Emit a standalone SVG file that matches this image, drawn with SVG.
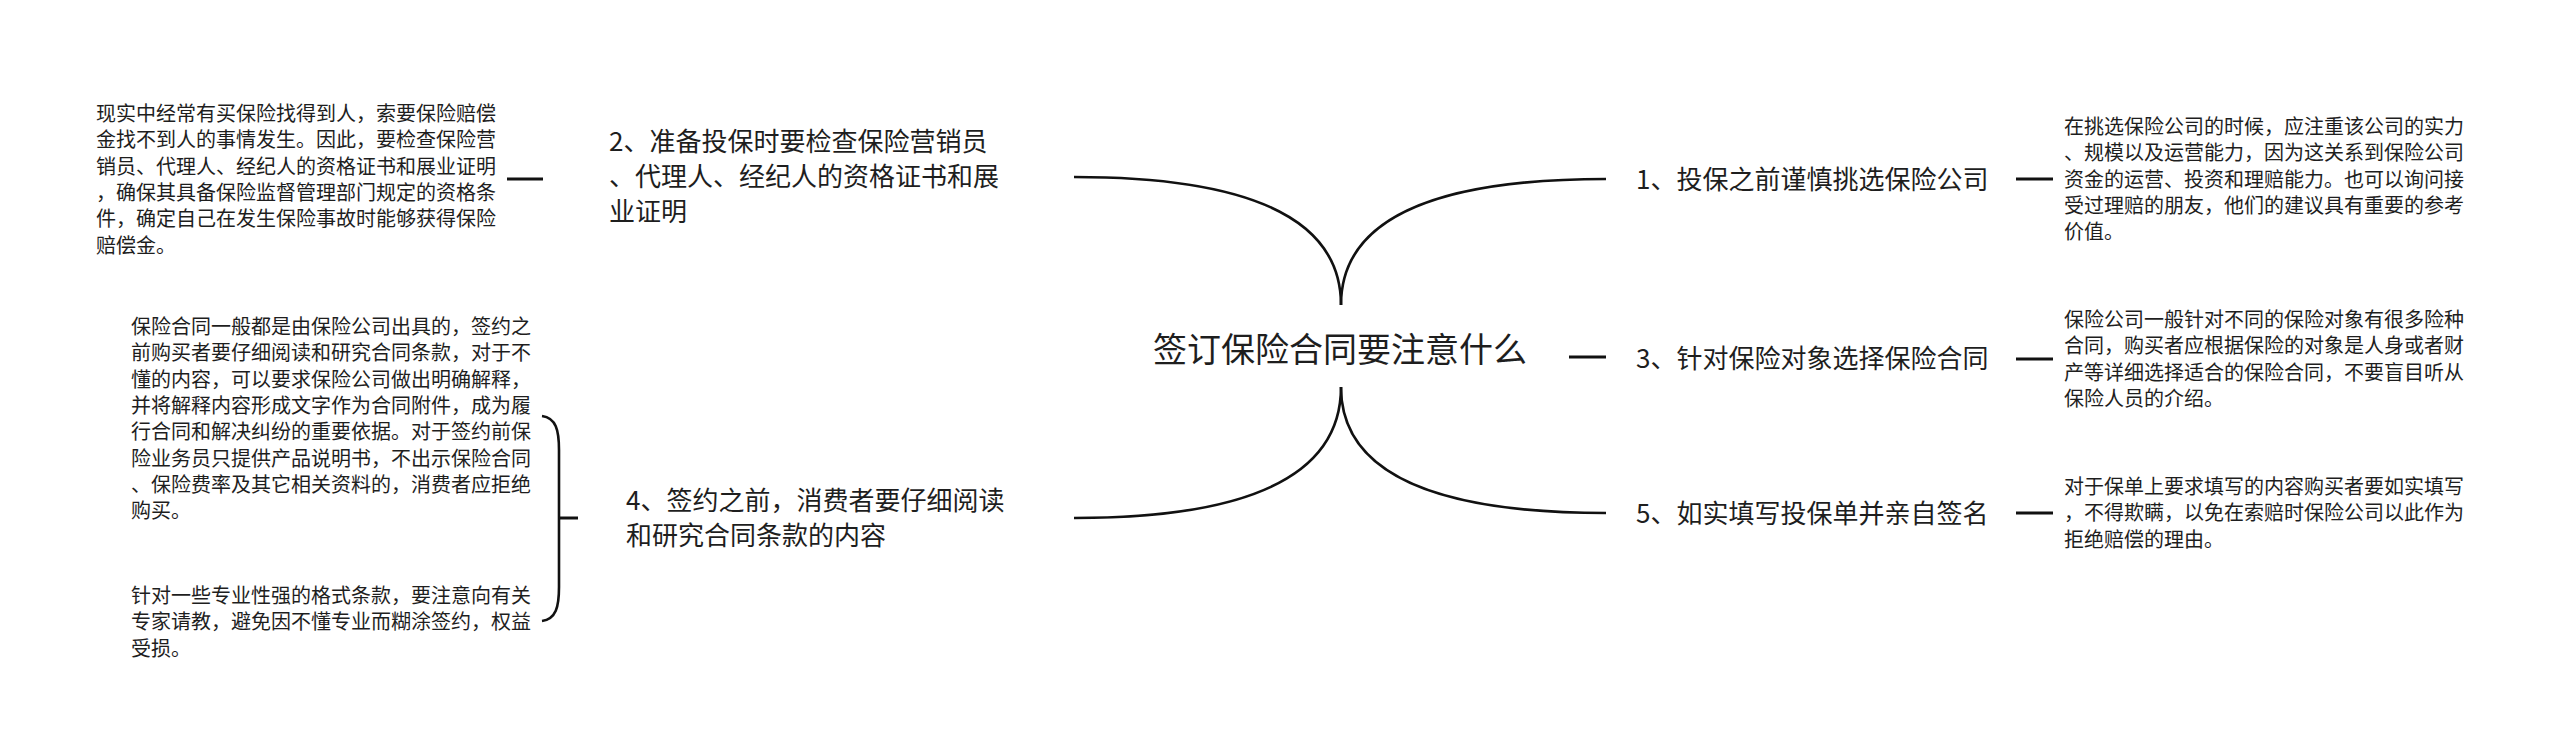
<svg xmlns="http://www.w3.org/2000/svg" width="2560" height="756" viewBox="0 0 2560 756">
<style>
text{font-family:"Noto Sans CJK SC","Noto Sans",sans-serif;fill:#1e1e1e}
.c{font-size:34px}
.t{font-size:26px}
.d{font-size:20px}
.ln{fill:none;stroke:#111;stroke-width:2.6;stroke-linecap:butt}
.dash{fill:none;stroke:#111;stroke-width:3}
</style>
<rect width="2560" height="756" fill="#fff"/>
<g id="connectors">
<path class="ln" d="M1341 305 Q1341 177 1074 177"/>
<path class="ln" d="M1341 305 Q1341 179 1606 179"/>
<path class="ln" d="M1341 387 Q1341 518 1074 518"/>
<path class="ln" d="M1341 387 Q1341 513 1606 513"/>
<path class="dash" d="M1569 357 H1606"/>
<path class="dash" d="M2016 179 H2053"/>
<path class="dash" d="M2016 359 H2053"/>
<path class="dash" d="M2016 513 H2053"/>
<path class="dash" d="M507 179 H543"/>
<path class="dash" d="M558 518 H578"/>
<path class="ln" d="M542 416 C556 418 559 430 559 450 L559 587 C559 607 556 619 542 621"/>
</g>
<g id="center"><text class="c" x="1340" y="362" text-anchor="middle">签订保险合同要注意什么</text></g>
<g id="n1"><text class="t" x="1636" y="189">1、投保之前谨慎挑选保险公司</text></g>
<g id="n3"><text class="t" x="1636" y="368">3、针对保险对象选择保险合同</text></g>
<g id="n5"><text class="t" x="1636" y="523">5、如实填写投保单并亲自签名</text></g>
<g id="n2"><text class="t"><tspan x="609" y="151">2、准备投保时要检查保险营销员</tspan><tspan x="609" y="186">、代理人、经纪人的资格证书和展</tspan><tspan x="609" y="221">业证明</tspan></text></g>
<g id="n4"><text class="t"><tspan x="626" y="510">4、签约之前，消费者要仔细阅读</tspan><tspan x="626" y="545">和研究合同条款的内容</tspan></text></g>
<g id="d2"><text class="d"><tspan x="96" y="121">现实中经常有买保险找得到人，索要保险赔偿</tspan><tspan x="96" y="147.3">金找不到人的事情发生。因此，要检查保险营</tspan><tspan x="96" y="173.6">销员、代理人、经纪人的资格证书和展业证明</tspan><tspan x="96" y="199.9">，确保其具备保险监督管理部门规定的资格条</tspan><tspan x="96" y="226.2">件，确定自己在发生保险事故时能够获得保险</tspan><tspan x="96" y="252.5">赔偿金。</tspan></text></g>
<g id="d4a"><text class="d"><tspan x="131" y="334">保险合同一般都是由保险公司出具的，签约之</tspan><tspan x="131" y="360.3">前购买者要仔细阅读和研究合同条款，对于不</tspan><tspan x="131" y="386.6">懂的内容，可以要求保险公司做出明确解释，</tspan><tspan x="131" y="412.9">并将解释内容形成文字作为合同附件，成为履</tspan><tspan x="131" y="439.2">行合同和解决纠纷的重要依据。对于签约前保</tspan><tspan x="131" y="465.5">险业务员只提供产品说明书，不出示保险合同</tspan><tspan x="131" y="491.8">、保险费率及其它相关资料的，消费者应拒绝</tspan><tspan x="131" y="518.1">购买。</tspan></text></g>
<g id="d4b"><text class="d"><tspan x="131" y="603">针对一些专业性强的格式条款，要注意向有关</tspan><tspan x="131" y="629.3">专家请教，避免因不懂专业而糊涂签约，权益</tspan><tspan x="131" y="655.6">受损。</tspan></text></g>
<g id="d1"><text class="d"><tspan x="2064" y="134">在挑选保险公司的时候，应注重该公司的实力</tspan><tspan x="2064" y="160.3">、规模以及运营能力，因为这关系到保险公司</tspan><tspan x="2064" y="186.6">资金的运营、投资和理赔能力。也可以询问接</tspan><tspan x="2064" y="212.9">受过理赔的朋友，他们的建议具有重要的参考</tspan><tspan x="2064" y="239.2">价值。</tspan></text></g>
<g id="d3"><text class="d"><tspan x="2064" y="327">保险公司一般针对不同的保险对象有很多险种</tspan><tspan x="2064" y="353.3">合同，购买者应根据保险的对象是人身或者财</tspan><tspan x="2064" y="379.6">产等详细选择适合的保险合同，不要盲目听从</tspan><tspan x="2064" y="405.9">保险人员的介绍。</tspan></text></g>
<g id="d5"><text class="d"><tspan x="2064" y="494">对于保单上要求填写的内容购买者要如实填写</tspan><tspan x="2064" y="520.3">，不得欺瞒，以免在索赔时保险公司以此作为</tspan><tspan x="2064" y="546.6">拒绝赔偿的理由。</tspan></text></g>
</svg>
